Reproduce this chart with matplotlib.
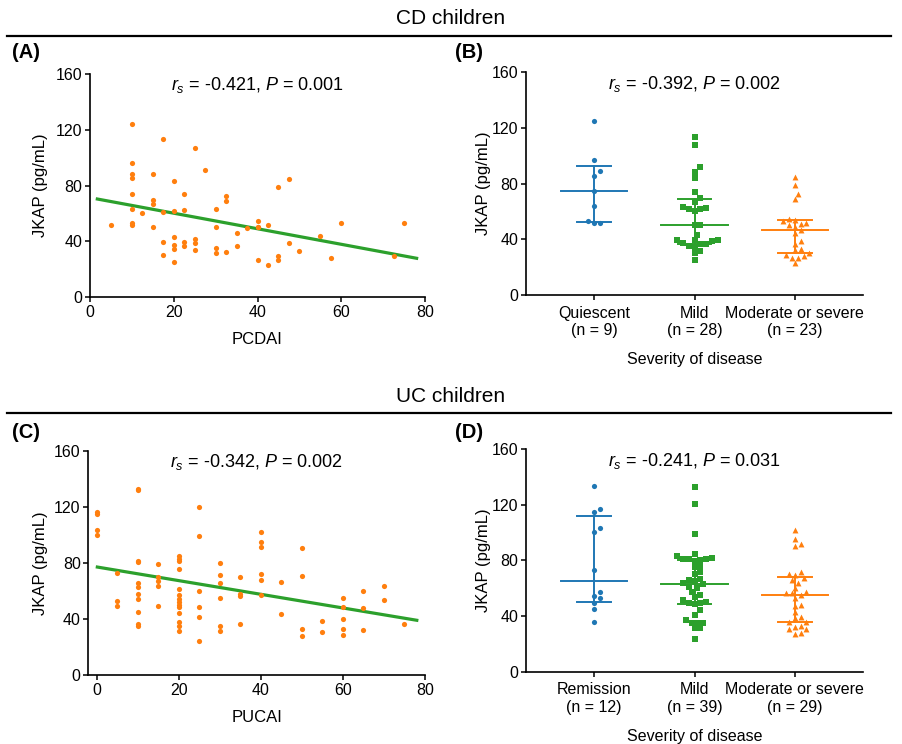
import matplotlib
matplotlib.use('agg')
import matplotlib.pyplot as plt
import numpy as np

plt.rcParams['font.family'] = ['Liberation Sans', 'DejaVu Sans']
plt.rcParams['mathtext.fontset'] = 'custom'
plt.rcParams['mathtext.rm'] = 'Liberation Sans'
plt.rcParams['mathtext.it'] = 'Liberation Sans:italic'

orange = '#ff7f0e'
blue = '#1f77b4'
green = '#2ca02c'

# CD children: JKAP vs PCDAI
cd_pcdai = [5, 10, 10, 10, 10, 10, 10, 10, 10, 12.5, 15, 15, 15, 15, 17.5, 17.5, 17.5, 17.5,
            20, 20, 20, 20, 20, 20, 22.5, 22.5, 22.5, 22.5, 25, 25, 25, 25, 27.5, 30, 30, 30, 30,
            32.5, 32.5, 32.5, 35, 35, 37.5, 40, 40, 40, 40, 42.5, 42.5, 45, 45, 45, 47.5, 47.5,
            50, 55, 57.5, 60, 72.5, 75]
cd_jkap = [51.8, 124.3, 96.4, 88.5, 85.4, 74.2, 63.5, 53.2, 52.0, 60.4, 88.1, 69.5, 66.6, 50.4,
           113.1, 61.3, 39.4, 30.3, 83.5, 61.6, 43.2, 37.2, 34.8, 25.1, 74.0, 62.3, 39.4, 36.5,
           107.2, 41.5, 38.7, 34.1, 91.2, 63.2, 50.1, 35.3, 31.7, 72.6, 68.7, 32.2, 46.3, 36.5,
           49.4, 54.7, 50.6, 50.1, 26.5, 52.0, 23.2, 79.0, 29.6, 26.7, 84.7, 39.1, 33.2, 44.2,
           28.4, 53.5, 29.8, 53.2]
cd_fit = (-0.557, 71.4)
cd_fit_range = (1.75, 78)

# UC children: JKAP vs PUCAI
uc_pucai = [0, 0, 0, 0, 5, 5, 5, 10, 10, 10, 10, 10, 10, 10, 10, 10, 10, 10,
            15, 15, 15, 15, 15, 20, 20, 20, 20, 20, 20, 20, 20, 20, 20, 20, 20, 20, 20,
            25, 25, 25, 25, 25, 25, 30, 30, 30, 30, 30, 30, 35, 35, 35, 35,
            40, 40, 40, 40, 40, 40, 45, 45, 50, 50, 50, 50, 55, 55,
            60, 60, 60, 60, 60, 65, 65, 65, 70, 70, 75]
uc_jkap = [116.0, 114.6, 103.4, 100.1, 72.8, 52.8, 49.2, 132.9, 132.0, 81.1, 80.4, 65.6, 63.0,
           57.5, 54.4, 45.2, 36.1, 34.7, 79.4, 70.1, 66.8, 63.7, 49.2, 84.9, 83.0, 81.3, 75.4,
           61.1, 57.3, 54.0, 52.1, 50.2, 48.7, 44.5, 37.6, 35.0, 31.4, 120.1, 99.1, 60.2, 48.7,
           41.1, 24.3, 80.1, 71.3, 65.4, 55.2, 35.0, 31.4, 69.7, 57.8, 56.6, 36.6, 102.0, 95.1,
           91.5, 71.8, 67.5, 57.1, 66.3, 43.3, 90.6, 70.6, 32.8, 27.6, 38.8, 30.7, 55.2, 48.7,
           40.2, 32.8, 28.5, 59.9, 48.0, 32.3, 63.7, 53.5, 36.4]
uc_fit = (-0.488, 77.1)
uc_fit_range = (0.2, 78)

# CD children by severity
cd_groups = ['Quiescent\n(n = 9)', 'Mild\n(n = 28)', 'Moderate or severe\n(n = 23)']
cd_quiescent = [124.6, 96.9, 89.0, 85.7, 74.7, 64.0, 53.5, 52.0, 52.0]
cd_mild = [113.6, 107.6, 91.6, 88.5, 83.8, 74.2, 69.7, 66.8, 62.8, 62.1, 62.1, 63.5, 60.6, 50.6,
           50.6, 43.4, 38.7, 39.6, 39.6, 39.6, 36.8, 36.8, 35.6, 37.5, 34.8, 32.0, 30.5, 25.1]
cd_moderate = [85.0, 79.0, 72.6, 68.8, 54.9, 54.0, 53.2, 52.0, 51.1, 50.6, 49.2, 46.6, 44.4, 38.7,
               36.8, 33.2, 32.2, 30.1, 28.9, 28.2, 26.9, 26.5, 22.9]

# UC children by severity
uc_groups = ['Remission\n(n = 12)', 'Mild\n(n = 39)', 'Moderate or severe\n(n = 29)']
uc_remission = [133.2, 116.5, 115.0, 103.3, 100.2, 72.8, 57.0, 54.4, 52.7, 49.2, 45.1, 35.8]
uc_mild = [132.2, 120.3, 99.0, 84.6, 83.1, 81.9, 81.2, 81.2, 80.7, 80.3, 79.8, 75.7, 75.5, 71.4,
           70.0, 66.9, 65.7, 65.4, 63.6, 62.8, 61.1, 60.2, 57.3, 55.2, 53.5, 51.6, 50.4, 49.2,
           49.2, 48.9, 44.2, 41.1, 37.3, 35.1, 34.9, 34.9, 31.3, 31.3, 23.9]
uc_moderate = [101.9, 95.2, 91.9, 90.5, 71.8, 70.4, 69.7, 67.0, 66.1, 63.7, 60.0, 57.0, 56.3,
               56.3, 54.9, 52.7, 48.2, 47.3, 43.2, 39.6, 38.4, 36.0, 36.0, 33.0, 32.5, 30.5,
               30.5, 28.2, 27.2]

cd_stats = ('$\\mathit{r_s}$ = -0.421, $\\mathit{P}$ = 0.001',
            '$\\mathit{r_s}$ = -0.392, $\\mathit{P}$ = 0.002')
uc_stats = ('$\\mathit{r_s}$ = -0.342, $\\mathit{P}$ = 0.002',
            '$\\mathit{r_s}$ = -0.241, $\\mathit{P}$ = 0.031')


def swarm(vals, d=5.8, xpx=100.0, ypx=223.3 / 160):
    # simple beeswarm: place sorted points at the nearest free offset
    vals = np.asarray(vals, float)
    cand = [0.0]
    for k in range(1, 30):
        cand += [k * d / 2, -k * d / 2]
    placed = []
    offs = np.zeros(len(vals))
    for i in np.argsort(vals):
        y = vals[i] * ypx
        for c in cand:
            if all((c - px) ** 2 + (y - py) ** 2 >= (d * 0.98) ** 2 for px, py in placed):
                break
        placed.append((c, y))
        offs[i] = c / xpx
    return offs


def style(ax):
    for s in ['top', 'right']:
        ax.spines[s].set_visible(False)
    for s in ['left', 'bottom']:
        ax.spines[s].set_linewidth(1.2)
    ax.tick_params(direction='out', length=3.5, width=1.1, labelsize=11.5, pad=2)
    ax.set_ylim(0, 160)
    ax.set_yticks([0, 40, 80, 120, 160])
    ax.set_ylabel('JKAP (pg/mL)', fontsize=12)


def corr_panel(ax, x, y, fit, rng, xlabel, stat):
    ax.scatter(x, y, s=14, color=orange, linewidths=0, zorder=3)
    xs = np.array(rng)
    ax.plot(xs, fit[0] * xs + fit[1], color=green, lw=2.3, zorder=2)
    style(ax)
    ax.set_xticks([0, 20, 40, 60, 80])
    ax.set_xlabel(xlabel, fontsize=12, labelpad=9)
    ax.text(0.5, 0.95, stat, transform=ax.transAxes, ha='center', va='center', fontsize=13)


def group_panel(ax, groups, labels, stat):
    markers = ['o', 's', '^']
    colors = [blue, green, orange]
    sizes = [14, 16, 18]
    for i, g in enumerate(groups):
        xo = swarm(g)
        ax.scatter(i + xo, g, marker=markers[i], s=sizes[i], color=colors[i], linewidths=0, zorder=3)
        q1, med, q3 = np.percentile(g, [25, 50, 75], method='weibull')
        ax.plot([i - 0.33, i + 0.33], [med, med], color=colors[i], lw=1.4, zorder=2)
        ax.plot([i, i], [q1, q3], color=colors[i], lw=1.4, zorder=2)
        for q in (q1, q3):
            ax.plot([i - 0.167, i + 0.167], [q, q], color=colors[i], lw=1.4, zorder=2)
    style(ax)
    ax.set_xlim(-0.68, 2.68)
    ax.set_xticks([0, 1, 2])
    ax.set_xticklabels(labels, linespacing=1.2)
    ax.tick_params(axis='x', pad=4)
    ax.set_xlabel('Severity of disease', fontsize=11.5, labelpad=10)
    ax.text(0.5, 0.946, stat, transform=ax.transAxes, ha='center', va='center', fontsize=13)


W, H = 902, 744
fig = plt.figure(figsize=(W / 100, H / 100), dpi=100)


def box(l, r, t, b):
    return [l / W, 1 - b / H, (r - l) / W, (b - t) / H]


axA = fig.add_axes(box(90, 425, 74, 297.3))
axB = fig.add_axes(box(526, 863, 72, 295.3))
axC = fig.add_axes(box(88.3, 425, 450.7, 675))
axD = fig.add_axes(box(526, 863, 448.7, 672))

corr_panel(axA, cd_pcdai, cd_jkap, cd_fit, cd_fit_range, 'PCDAI', cd_stats[0])
axA.set_xlim(0, 80)
corr_panel(axC, uc_pucai, uc_jkap, uc_fit, uc_fit_range, 'PUCAI', uc_stats[0])
axC.set_xlim(-2, 80)
group_panel(axB, [cd_quiescent, cd_mild, cd_moderate], cd_groups, cd_stats[1])
group_panel(axD, [uc_remission, uc_mild, uc_moderate], uc_groups, uc_stats[1])

axA.yaxis.set_label_coords(-0.125, 0.5)
axC.yaxis.set_label_coords(-0.12, 0.5)
for ax in (axB, axD):
    ax.yaxis.set_label_coords(-0.104, 0.5)

# section headers and divider lines
fig.text(451 / W, 1 - 18 / H, 'CD children', ha='center', va='center', fontsize=15)
fig.text(451 / W, 1 - 397 / H, 'UC children', ha='center', va='center', fontsize=15)
for yy in (35.5, 413.3):
    fig.add_artist(plt.Line2D([7 / W, 891 / W], [1 - yy / H, 1 - yy / H], color='black', lw=1.6))

for lbl, x, y in [('(A)', 12, 53), ('(B)', 455, 53), ('(C)', 12, 432), ('(D)', 455, 432)]:
    fig.text(x / W, 1 - y / H, lbl, ha='left', va='center', fontsize=14.5, fontweight='bold')

plt.savefig('out.png', dpi=100)
